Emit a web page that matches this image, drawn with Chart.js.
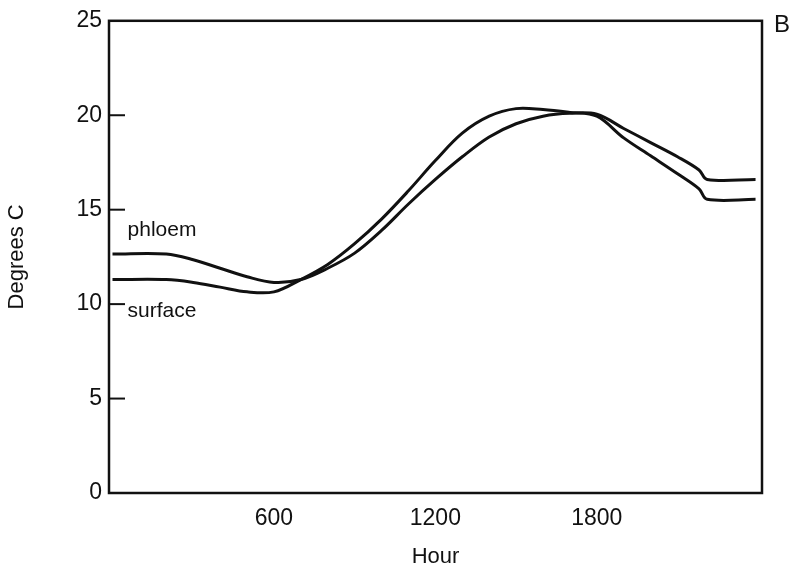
<!DOCTYPE html>
<html>
<head>
<meta charset="utf-8">
<title>Degrees C by Hour</title>
<script src="https://cdn.jsdelivr.net/npm/chart.js@4"></script>
<style>
html,body{margin:0;padding:0;background:#fff}
#wrap{width:796px;height:573px}
</style>
</head>
<body>
<div id="wrap"><canvas id="c" width="796" height="573"></canvas></div>
<script>
// ===== DATA =====
const hours   = [0, 200, 300, 400, 500, 600, 700, 800, 900, 1000, 1100, 1200, 1300, 1400, 1500, 1600, 1700, 1800, 1900, 2000, 2100, 2180, 2210, 2390]
const phloem  = [12.65, 12.65, 12.35, 11.9, 11.45, 11.15, 11.3, 11.9, 12.7, 13.9, 15.3, 16.6, 17.8, 18.85, 19.55, 19.95, 20.1, 20.05, 19.3, 18.55, 17.8, 17.1, 16.6, 16.6]
const surface = [11.3, 11.3, 11.15, 10.9, 10.65, 10.65, 11.3, 12.1, 13.2, 14.5, 16.0, 17.6, 19.05, 19.95, 20.35, 20.3, 20.15, 19.95, 18.8, 17.85, 16.9, 16.1, 15.55, 15.55]
const xTicks  = [600, 1200, 1800]
const yTicks  = [0, 5, 10, 15, 20, 25]
const innerTicks = [5, 10, 15, 20]

const FONT = "'Liberation Sans', Arial, sans-serif"
const INK = '#111'

const pts = arr => hours.map((h,i)=>({x:h, y:arr[i]}))

// ===== FRAME, INNER TICKS, LABELS =====
const decor = {
  id:'decor',
  afterDraw(chart){
    const {ctx, chartArea:a, scales:{x, y}} = chart
    ctx.save()
    ctx.strokeStyle = INK
    ctx.lineWidth = 2.5
    ctx.strokeRect(a.left, a.top, a.right-a.left, a.bottom-a.top)
    ctx.lineWidth = 2
    innerTicks.forEach(v=>{
      const py = y.getPixelForValue(v)
      ctx.beginPath(); ctx.moveTo(a.left, py); ctx.lineTo(a.left+16, py); ctx.stroke()
    })
    ctx.fillStyle = INK
    ctx.font = '21px ' + FONT
    ctx.textAlign = 'center'
    ctx.textBaseline = 'middle'
    ctx.fillText('phloem', x.getPixelForValue(184), y.getPixelForValue(13.9))
    ctx.fillText('surface', x.getPixelForValue(184), y.getPixelForValue(9.6))
    ctx.font = '24px ' + FONT
    ctx.fillText('B', 782, 25)
    ctx.restore()
  }
}

new Chart(document.getElementById('c'), {
  type:'line',
  data:{
    datasets:[
      {label:'phloem', data:pts(phloem)},
      {label:'surface', data:pts(surface)}
    ]
  },
  options:{
    responsive:false,
    animation:false,
    devicePixelRatio:1,
    layout:{padding:{top:13, right:34, left:0, bottom:0}},
    elements:{
      line:{borderColor:INK, borderWidth:3, tension:0.35, fill:false},
      point:{radius:0}
    },
    plugins:{legend:{display:false}, tooltip:{enabled:false}},
    scales:{
      x:{
        type:'linear', min:-13, max:2414,
        afterBuildTicks: s => { s.ticks = xTicks.map(v=>({value:v})) },
        afterFit: s => { s.height = 80 },
        grid:{display:false, drawTicks:false},
        border:{display:false},
        ticks:{color:INK, font:{family:FONT, size:23}, padding:12, maxRotation:0, callback:v=>String(v)},
        title:{display:true, text:'Hour', color:INK, font:{family:FONT, size:22}, padding:{top:0, bottom:3}}
      },
      y:{
        type:'linear', min:0, max:25,
        afterBuildTicks: s => { s.ticks = yTicks.map(v=>({value:v})) },
        afterFit: s => { s.width = 109 },
        grid:{display:false, drawTicks:false},
        border:{display:false},
        ticks:{color:INK, font:{family:FONT, size:23}, padding:7},
        title:{display:true, text:'Degrees C', color:INK, font:{family:FONT, size:22}, padding:{top:4, bottom:0}}
      }
    }
  },
  plugins:[decor]
})
</script>
</body>
</html>
